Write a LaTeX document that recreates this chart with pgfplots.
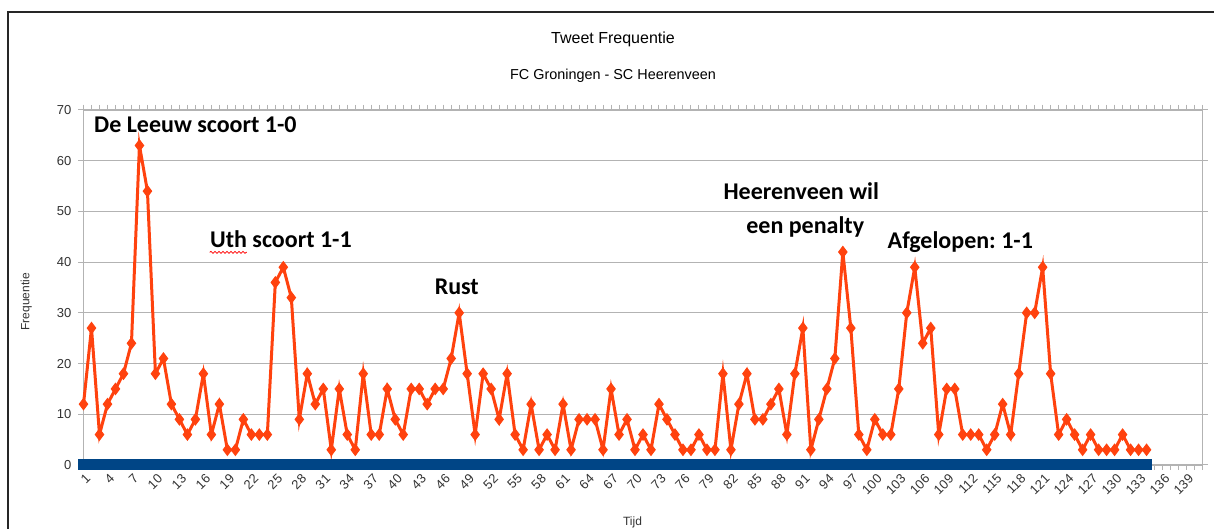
\documentclass[border=0pt]{standalone}
\usepackage{fontspec}
\setmainfont{Liberation Sans}
\newfontfamily\carlito{Carlito}
\usepackage{pgfplots}
\pgfplotsset{compat=1.18}
\usepackage{pgfplotstable}
\usetikzlibrary{decorations.pathmorphing}
\definecolor{loblue}{HTML}{004586}
\definecolor{loorange}{HTML}{FF420E}
\definecolor{gridc}{HTML}{B3B3B3}
\definecolor{txt}{HTML}{333333}
\frenchspacing

\pgfplotstableread{
n a b
1 0 12
2 0 27
3 0 6
4 0 12
5 0 15
6 0 18
7 0 24
8 0 63
9 0 54
10 0 18
11 0 21
12 0 12
13 0 9
14 0 6
15 0 9
16 0 18
17 0 6
18 0 12
19 0 3
20 0 3
21 0 9
22 0 6
23 0 6
24 0 6
25 0 36
26 0 39
27 0 33
28 0 9
29 0 18
30 0 12
31 0 15
32 0 3
33 0 15
34 0 6
35 0 3
36 0 18
37 0 6
38 0 6
39 0 15
40 0 9
41 0 6
42 0 15
43 0 15
44 0 12
45 0 15
46 0 15
47 0 21
48 0 30
49 0 18
50 0 6
51 0 18
52 0 15
53 0 9
54 0 18
55 0 6
56 0 3
57 0 12
58 0 3
59 0 6
60 0 3
61 0 12
62 0 3
63 0 9
64 0 9
65 0 9
66 0 3
67 0 15
68 0 6
69 0 9
70 0 3
71 0 6
72 0 3
73 0 12
74 0 9
75 0 6
76 0 3
77 0 3
78 0 6
79 0 3
80 0 3
81 0 18
82 0 3
83 0 12
84 0 18
85 0 9
86 0 9
87 0 12
88 0 15
89 0 6
90 0 18
91 0 27
92 0 3
93 0 9
94 0 15
95 0 21
96 0 42
97 0 27
98 0 6
99 0 3
100 0 9
101 0 6
102 0 6
103 0 15
104 0 30
105 0 39
106 0 24
107 0 27
108 0 6
109 0 15
110 0 15
111 0 6
112 0 6
113 0 6
114 0 3
115 0 6
116 0 12
117 0 6
118 0 18
119 0 30
120 0 30
121 0 39
122 0 18
123 0 6
124 0 9
125 0 6
126 0 3
127 0 6
128 0 3
129 0 3
130 0 3
131 0 6
132 0 3
133 0 3
134 0 3
}\tweets

\begin{document}
\begin{tikzpicture}
\useasboundingbox (-41.75pt,-32pt) rectangle (565.25pt,232.5pt);
\fill[white] (-41.75pt,-32pt) rectangle (565.25pt,232.5pt);
\draw[line width=1pt, black!85] (-37.75pt,-32pt) -- (-37.75pt,226.25pt) -- (565.25pt,226.25pt);
\begin{axis}[
  at={(0pt,0pt)}, anchor=south west,
  scale only axis, width=559.5pt, height=177.5pt,
  xmin=1, xmax=141, ymin=0, ymax=70,
  clip=false,
  xtick={1,4,...,139},
  minor xtick={1,...,141},
  ytick={0,10,...,70},
  tick align=outside,
  major tick length=2.5pt, minor tick length=2.5pt,
  tick style={gridc, line width=0.5pt},
  axis line style={gridc, line width=0.5pt},
  ymajorgrids, major grid style={gridc, line width=0.6pt},
  xticklabel style={rotate=45, anchor=east, yshift=-4pt, xshift=0.5pt, font=\fontsize{6.5}{7}\selectfont, text=txt, inner sep=1pt},
  yticklabel style={font=\fontsize{6.5}{7}\selectfont, text=txt},
  /pgf/number format/assume math mode=true,
  x tick label style={/pgf/number format/1000 sep={}},
]
\addplot[loblue, line width=5pt, mark=square*, mark size=2.5pt, mark options={loblue, line width=0pt}] table[x=n, y=a] {\tweets};
\addplot[loorange, line width=1.5pt, mark=diamond*, mark size=2.8pt, mark options={loorange, line width=0.5pt}] table[x=n, y=b] {\tweets};

\node[anchor=base, inner sep=0pt, font=\carlito\bfseries\fontsize{12}{14}\selectfont] at (axis cs:15.0,65.6) {De Leeuw scoort 1-0};
\node[anchor=base, inner sep=0pt, font=\carlito\bfseries\fontsize{12}{14}\selectfont] (uth) at (axis cs:25.7,42.8) {Uth scoort 1-1};
\node[anchor=base, inner sep=0pt, font=\carlito\bfseries\fontsize{12}{14}\selectfont] at (axis cs:47.7,33.7) {Rust};
\node[anchor=base, inner sep=0pt, font=\carlito\bfseries\fontsize{12}{14}\selectfont] at (axis cs:90.8,52.4) {Heerenveen wil};
\node[anchor=base, inner sep=0pt, font=\carlito\bfseries\fontsize{12}{14}\selectfont] at (axis cs:91.3,45.7) {een penalty};
\node[anchor=base, inner sep=0pt, font=\carlito\bfseries\fontsize{12}{14}\selectfont] at (axis cs:110.7,42.7) {Afgelopen: 1-1};
\end{axis}
\draw[red, line width=0.4pt, decorate, decoration={snake, amplitude=0.5pt, segment length=2pt}] ([yshift=-2.2pt]uth.base west) -- ++(18.5pt,0);
\node[anchor=base, font=\fontsize{8}{9}\selectfont] at (264.75pt,210.85pt) {Tweet Frequentie};
\node[anchor=base, font=\fontsize{7.2}{8}\selectfont] at (264.75pt,192.85pt) {FC Groningen - SC Heerenveen};
\node[rotate=90, font=\fontsize{6}{7}\selectfont, text=txt] at (-28.65pt,81.65pt) {Frequentie};
\node[anchor=base, font=\fontsize{6}{7}\selectfont, text=txt] at (274.5pt,-30.15pt) {Tijd};
\end{tikzpicture}
\end{document}
